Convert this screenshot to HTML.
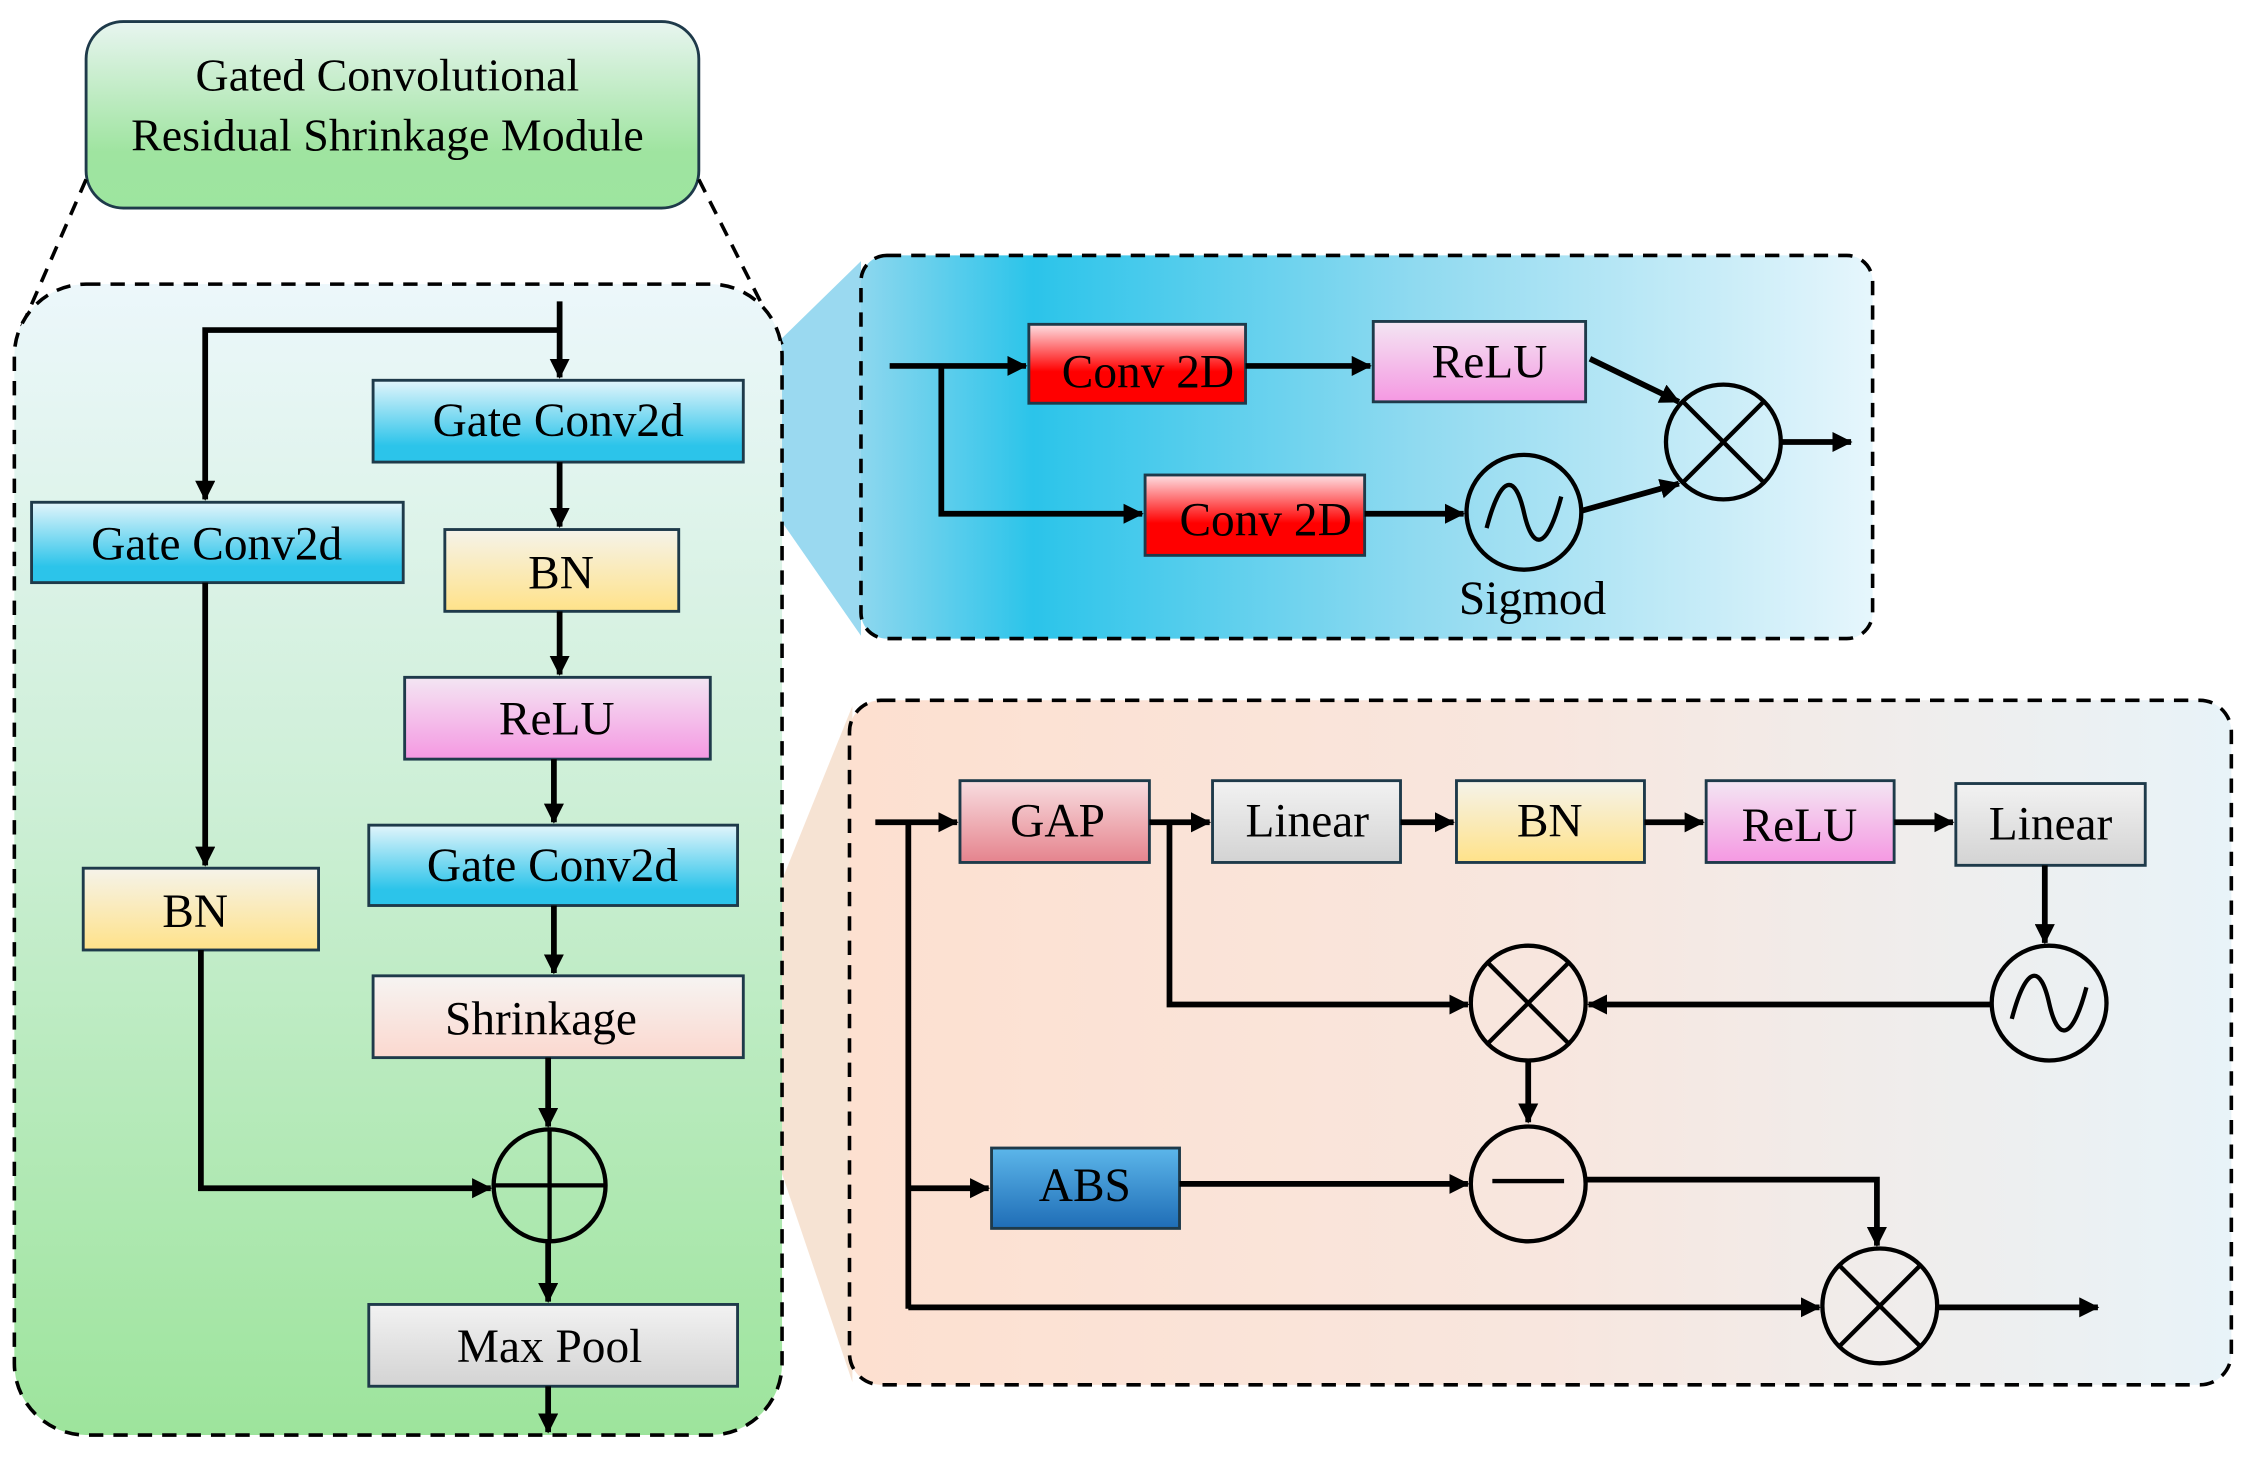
<!DOCTYPE html>
<html><head><meta charset="utf-8"><style>html,body{margin:0;padding:0;background:#fff}svg{display:block}text{font-family:"Liberation Serif",serif}</style></head><body>
<svg width="2250" height="1458" viewBox="0 0 1568 1016" preserveAspectRatio="none" xmlns="http://www.w3.org/2000/svg" style="font-family:'Liberation Serif',serif" font-size="33">
<defs>
<linearGradient id="title" x1="0" y1="0" x2="0" y2="1"><stop offset="0" stop-color="#e8f5f0"/><stop offset="0.7" stop-color="#9fe4a0"/><stop offset="1" stop-color="#9de59f"/></linearGradient>
<linearGradient id="leftc" x1="0" y1="0" x2="0" y2="1"><stop offset="0" stop-color="#ecf7fb"/><stop offset="0.45" stop-color="#cdefd6"/><stop offset="1" stop-color="#9de49c"/></linearGradient>
<linearGradient id="topp" x1="0" y1="0" x2="1" y2="0"><stop offset="0" stop-color="#8dd7ee"/><stop offset="0.17" stop-color="#2bc4ea"/><stop offset="0.55" stop-color="#90daf0"/><stop offset="1" stop-color="#e6f6fc"/></linearGradient>
<linearGradient id="botp" x1="0" y1="0" x2="1" y2="0"><stop offset="0" stop-color="#fde0d0"/><stop offset="0.5" stop-color="#f8e6de"/><stop offset="1" stop-color="#e8f3f8"/></linearGradient>
<linearGradient id="blue" x1="0" y1="0" x2="0" y2="1"><stop offset="0" stop-color="#e2f5fb"/><stop offset="0.8" stop-color="#2cc4ea"/><stop offset="1" stop-color="#2cc4ea"/></linearGradient>
<linearGradient id="yel" x1="0" y1="0" x2="0" y2="1"><stop offset="0" stop-color="#f5f3ea"/><stop offset="1" stop-color="#ffe289"/></linearGradient>
<linearGradient id="pink" x1="0" y1="0" x2="0" y2="1"><stop offset="0" stop-color="#f3e6f3"/><stop offset="1" stop-color="#f598e2"/></linearGradient>
<linearGradient id="peach" x1="0" y1="0" x2="0" y2="1"><stop offset="0" stop-color="#f6f4f2"/><stop offset="1" stop-color="#fbd8cf"/></linearGradient>
<linearGradient id="gray" x1="0" y1="0" x2="0" y2="1"><stop offset="0" stop-color="#f2f2f2"/><stop offset="1" stop-color="#d3d3d3"/></linearGradient>
<linearGradient id="red" x1="0" y1="0" x2="0" y2="1"><stop offset="0" stop-color="#fde0e4"/><stop offset="0.6" stop-color="#ff0000"/><stop offset="1" stop-color="#f00"/></linearGradient>
<linearGradient id="gap" x1="0" y1="0" x2="0" y2="1"><stop offset="0" stop-color="#f8dde0"/><stop offset="1" stop-color="#e5838d"/></linearGradient>
<linearGradient id="abs" x1="0" y1="0" x2="0" y2="1"><stop offset="0" stop-color="#5cb6ea"/><stop offset="1" stop-color="#1f6db6"/></linearGradient>
<marker id="arb" markerWidth="14" markerHeight="14" refX="13" refY="7" orient="auto" markerUnits="userSpaceOnUse"><path d="M0,0 L14,7 L0,14 z" fill="#000"/></marker>
</defs>

<polygon points="518,262 600,182 600,443 518,325" fill="#8fd5ee" opacity="0.9"/>
<polygon points="518,680 594,492 594,963 518,738" fill="#f4dcc8" opacity="0.8"/>

<rect x="60" y="15" width="427" height="130" rx="26" fill="url(#title)" stroke="#1e3a4a" stroke-width="2"/>
<text x="270" y="63" text-anchor="middle" font-size="32">Gated Convolutional</text>
<text x="270" y="105" text-anchor="middle" font-size="32">Residual Shrinkage Module</text>
<line x1="60" y1="125" x2="12" y2="235" stroke="#000" stroke-width="2.5" stroke-dasharray="10,7"/>
<line x1="487" y1="125" x2="545" y2="240" stroke="#000" stroke-width="2.5" stroke-dasharray="10,7"/>

<rect x="10" y="198" width="535" height="802" rx="50" fill="url(#leftc)" stroke="#000" stroke-width="2.5" stroke-dasharray="10,7"/>
<rect x="600" y="178" width="705" height="267" rx="18" fill="url(#topp)" stroke="#000" stroke-width="2.5" stroke-dasharray="10,7"/>
<rect x="592" y="488" width="963" height="477" rx="22" fill="url(#botp)" stroke="#000" stroke-width="2.5" stroke-dasharray="10,7"/>

<g stroke="#1e3a4a" stroke-width="2">
<rect x="260" y="265" width="258" height="57" fill="url(#blue)"/>
<rect x="22" y="350" width="259" height="56" fill="url(#blue)"/>
<rect x="310" y="369" width="163" height="57" fill="url(#yel)"/>
<rect x="282" y="472" width="213" height="57" fill="url(#pink)"/>
<rect x="257" y="575" width="257" height="56" fill="url(#blue)"/>
<rect x="260" y="680" width="258" height="57" fill="url(#peach)"/>
<rect x="58" y="605" width="164" height="57" fill="url(#yel)"/>
<rect x="257" y="909" width="257" height="57" fill="url(#gray)"/>
<rect x="717" y="226" width="151" height="55" fill="url(#red)"/>
<rect x="798" y="331" width="153" height="56" fill="url(#red)"/>
<rect x="957" y="224" width="148" height="56" fill="url(#pink)"/>
<rect x="669" y="544" width="132" height="57" fill="url(#gap)"/>
<rect x="845" y="544" width="131" height="57" fill="url(#gray)"/>
<rect x="1015" y="544" width="131" height="57" fill="url(#yel)"/>
<rect x="1189" y="544" width="131" height="57" fill="url(#pink)"/>
<rect x="1363" y="546" width="132" height="57" fill="url(#gray)"/>
<rect x="691" y="800" width="131" height="56" fill="url(#abs)"/>
</g>

<g text-anchor="middle">
<text x="389" y="304">Gate Conv2d</text>
<text x="151" y="390">Gate Conv2d</text>
<text x="391" y="410">BN</text>
<text x="388" y="512">ReLU</text>
<text x="385" y="614">Gate Conv2d</text>
<text x="377" y="721">Shrinkage</text>
<text x="136" y="646">BN</text>
<text x="383" y="949">Max Pool</text>
<text x="800" y="270">Conv 2D</text>
<text x="882" y="373">Conv 2D</text>
<text x="1038" y="263">ReLU</text>
<text x="1068" y="428">Sigmod</text>
<text x="737" y="583">GAP</text>
<text x="911" y="583">Linear</text>
<text x="1080" y="583">BN</text>
<text x="1254" y="586">ReLU</text>
<text x="1429" y="585">Linear</text>
<text x="756" y="837">ABS</text>
</g>

<g stroke="#000" stroke-width="4" fill="none">
<line x1="390" y1="210" x2="390" y2="263" marker-end="url(#arb)"/>
<polyline points="390,230 143,230 143,348" marker-end="url(#arb)"/>
<line x1="390" y1="322" x2="390" y2="367" marker-end="url(#arb)"/>
<line x1="390" y1="426" x2="390" y2="470" marker-end="url(#arb)"/>
<line x1="386" y1="529" x2="386" y2="573" marker-end="url(#arb)"/>
<line x1="386" y1="631" x2="386" y2="678" marker-end="url(#arb)"/>
<line x1="382" y1="737" x2="382" y2="785" marker-end="url(#arb)"/>
<line x1="382" y1="865" x2="382" y2="907" marker-end="url(#arb)"/>
<line x1="382" y1="966" x2="382" y2="998" marker-end="url(#arb)"/>
<line x1="143" y1="406" x2="143" y2="603" marker-end="url(#arb)"/>
<polyline points="140,662 140,828 342,828" marker-end="url(#arb)"/>
<circle cx="383" cy="826" r="39" stroke-width="3"/>
<line x1="344" y1="826" x2="422" y2="826" stroke-width="3"/>
<line x1="383" y1="787" x2="383" y2="865" stroke-width="3"/>

<line x1="620" y1="255" x2="715" y2="255" marker-end="url(#arb)"/>
<polyline points="656,255 656,358 796,358" marker-end="url(#arb)"/>
<line x1="868" y1="255" x2="955" y2="255" marker-end="url(#arb)"/>
<line x1="951" y1="358" x2="1020" y2="358" marker-end="url(#arb)"/>
<line x1="1108" y1="250" x2="1170" y2="280" marker-end="url(#arb)"/>
<line x1="1102" y1="356" x2="1170" y2="337" marker-end="url(#arb)"/>
<line x1="1241" y1="308" x2="1290" y2="308" marker-end="url(#arb)"/>
<circle cx="1062" cy="357" r="40" stroke-width="3"/>
<path d="M1036,368 C1046,330 1056,330 1062,357 C1068,384 1078,384 1088,346" stroke-width="3"/>
<circle cx="1201" cy="308" r="40" stroke-width="3"/>
<line x1="1173" y1="280" x2="1229" y2="336" stroke-width="3"/>
<line x1="1229" y1="280" x2="1173" y2="336" stroke-width="3"/>

<line x1="610" y1="573" x2="667" y2="573" marker-end="url(#arb)"/>
<line x1="801" y1="573" x2="843" y2="573" marker-end="url(#arb)"/>
<line x1="976" y1="573" x2="1013" y2="573" marker-end="url(#arb)"/>
<line x1="1146" y1="573" x2="1187" y2="573" marker-end="url(#arb)"/>
<line x1="1320" y1="573" x2="1361" y2="573" marker-end="url(#arb)"/>
<line x1="1425" y1="603" x2="1425" y2="657" marker-end="url(#arb)"/>
<line x1="1388" y1="700" x2="1107" y2="700" marker-end="url(#arb)"/>
<polyline points="815,573 815,700 1023,700" marker-end="url(#arb)"/>
<line x1="1065" y1="739" x2="1065" y2="782" marker-end="url(#arb)"/>
<line x1="633" y1="573" x2="633" y2="912"/>
<line x1="633" y1="828" x2="689" y2="828" marker-end="url(#arb)"/>
<line x1="822" y1="825" x2="1023" y2="825" marker-end="url(#arb)"/>
<polyline points="1105,822 1308,822 1308,868" marker-end="url(#arb)"/>
<line x1="633" y1="911" x2="1268" y2="911" marker-end="url(#arb)"/>
<line x1="1350" y1="911" x2="1462" y2="911" marker-end="url(#arb)"/>
<circle cx="1428" cy="699" r="40" stroke-width="3"/>
<path d="M1402,710 C1412,672 1422,672 1428,699 C1434,726 1444,726 1454,688" stroke-width="3"/>
<circle cx="1065" cy="699" r="40" stroke-width="3"/>
<line x1="1037" y1="671" x2="1093" y2="727" stroke-width="3"/>
<line x1="1093" y1="671" x2="1037" y2="727" stroke-width="3"/>
<circle cx="1065" cy="825" r="40" stroke-width="3"/>
<line x1="1040" y1="823" x2="1090" y2="823" stroke-width="3"/>
<circle cx="1310" cy="910" r="40" stroke-width="3"/>
<line x1="1282" y1="882" x2="1338" y2="938" stroke-width="3"/>
<line x1="1338" y1="882" x2="1282" y2="938" stroke-width="3"/>
</g>
</svg>
</body></html>
